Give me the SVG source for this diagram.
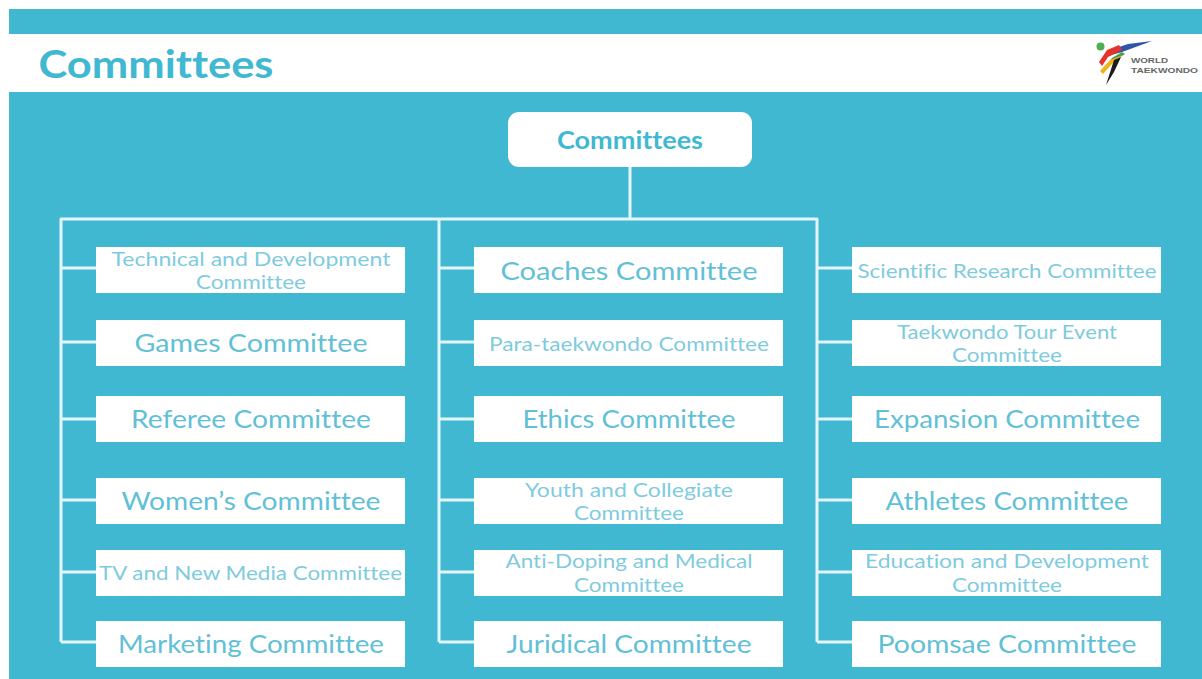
<svg xmlns="http://www.w3.org/2000/svg" width="1202" height="679" viewBox="0 0 1202 679">
<style>
.box{fill:#fff}
.t{font-family:"Lato","Liberation Sans",sans-serif;text-anchor:middle;fill:#62c0d6;font-variant-ligatures:none}
.big{font-size:25px}
.small{font-size:20px;fill:#7fcbde}
.c{fill:none;stroke:#e4f5f9;stroke-width:3;stroke-linejoin:round}
.h{font-family:"Lato","Liberation Sans",sans-serif;font-weight:700;fill:#41b8d2;text-anchor:middle;font-variant-ligatures:none}
.lg{font-family:"Liberation Sans",sans-serif;font-weight:700;font-size:8px;fill:#666}
</style>
<rect width="1202" height="679" fill="#fff"/>
<rect x="9" y="9" width="1193" height="25" fill="#41b8d2"/>
<rect x="9" y="92" width="1193" height="587" fill="#41b8d2"/>
<text class="h" x="156" y="78" font-size="39" textLength="235" lengthAdjust="spacingAndGlyphs">Committees</text>
<g id="logo">
<circle cx="1100.5" cy="46.5" r="4" fill="#4caf50"/>
<path d="M1152 41L1128 44L1110 50L1108 56L1122 52Z" fill="#2f55a8"/>
<path d="M1122 52L1112 58L1106 66L1113 62L1125 54Z" fill="#4aa04c"/>
<path d="M1119 45L1107 50L1099 62L1102 66L1108 57L1122 50Z" fill="#e5342b"/>
<path d="M1123 55L1110 60L1100 71L1103 74L1112 64Z" fill="#f2b21c"/>
<path d="M1121 57L1114 60L1106 85L1114 72Z" fill="#1c1c1c"/>
<text class="lg" x="1131" y="63" textLength="37" lengthAdjust="spacingAndGlyphs">WORLD</text>
<text class="lg" x="1131" y="73" textLength="67" lengthAdjust="spacingAndGlyphs">TAEKWONDO</text>
</g>
<g id="connectors">
<path class="c" d="M630 167V219M61 642V219H817V642M439 219V642"/>
<path class="c" d="M61 642H96M61 268H96M61 342H96M61 419H96M61 500H96M61 572H96"/>
<path class="c" d="M439 268H474M439 342H474M439 419H474M439 500H474M439 572H474M439 642H474"/>
<path class="c" d="M817 268H852M817 342H852M817 419H852M817 500H852M817 572H852M817 642H852"/>
</g>
<g id="root"><rect class="box" x="508" y="112" width="244" height="55" rx="11"/><text class="h" x="630" y="149" font-size="25" textLength="146" lengthAdjust="spacingAndGlyphs">Committees</text></g>
<g id="n1"><rect class="box" x="96" y="247" width="309" height="46"/><text class="t small" x="251" y="266" textLength="279" lengthAdjust="spacingAndGlyphs">Technical and Development</text><text class="t small" x="251" y="289" textLength="110" lengthAdjust="spacingAndGlyphs">Committee</text></g>
<g id="n2"><rect class="box" x="96" y="320" width="309" height="46"/><text class="t big" x="251" y="352" textLength="233" lengthAdjust="spacingAndGlyphs">Games Committee</text></g>
<g id="n3"><rect class="box" x="96" y="396" width="309" height="46"/><text class="t big" x="251" y="428" textLength="240" lengthAdjust="spacingAndGlyphs">Referee Committee</text></g>
<g id="n4"><rect class="box" x="96" y="478" width="309" height="46"/><text class="t big" x="251" y="510" textLength="259" lengthAdjust="spacingAndGlyphs">Women’s Committee</text></g>
<g id="n5"><rect class="box" x="96" y="550" width="309" height="46"/><text class="t small" x="250.500" y="580" textLength="303" lengthAdjust="spacingAndGlyphs">TV and New Media Committee</text></g>
<g id="n6"><rect class="box" x="96" y="621" width="309" height="46"/><text class="t big" x="251" y="653" textLength="266" lengthAdjust="spacingAndGlyphs">Marketing Committee</text></g>
<g id="n7"><rect class="box" x="474" y="247" width="309" height="46"/><text class="t big" x="629" y="280" textLength="257" lengthAdjust="spacingAndGlyphs">Coaches Committee</text></g>
<g id="n8"><rect class="box" x="474" y="320" width="309" height="46"/><text class="t small" x="629" y="351" textLength="280" lengthAdjust="spacingAndGlyphs">Para-taekwondo Committee</text></g>
<g id="n9"><rect class="box" x="474" y="396" width="309" height="46"/><text class="t big" x="629" y="428" textLength="213" lengthAdjust="spacingAndGlyphs">Ethics Committee</text></g>
<g id="n10"><rect class="box" x="474" y="478" width="309" height="46"/><text class="t small" x="629" y="497" textLength="208" lengthAdjust="spacingAndGlyphs">Youth and Collegiate</text><text class="t small" x="629" y="520" textLength="110" lengthAdjust="spacingAndGlyphs">Committee</text></g>
<g id="n11"><rect class="box" x="474" y="550" width="309" height="46"/><text class="t small" x="629" y="568" textLength="247" lengthAdjust="spacingAndGlyphs">Anti-Doping and Medical</text><text class="t small" x="629" y="592" textLength="110" lengthAdjust="spacingAndGlyphs">Committee</text></g>
<g id="n12"><rect class="box" x="474" y="621" width="309" height="46"/><text class="t big" x="629" y="653" textLength="245" lengthAdjust="spacingAndGlyphs">Juridical Committee</text></g>
<g id="n13"><rect class="box" x="852" y="247" width="309" height="46"/><text class="t small" x="1007" y="278" textLength="299" lengthAdjust="spacingAndGlyphs">Scientific Research Committee</text></g>
<g id="n14"><rect class="box" x="852" y="320" width="309" height="46"/><text class="t small" x="1007" y="339" textLength="220" lengthAdjust="spacingAndGlyphs">Taekwondo Tour Event</text><text class="t small" x="1007" y="362" textLength="110" lengthAdjust="spacingAndGlyphs">Committee</text></g>
<g id="n15"><rect class="box" x="852" y="396" width="309" height="46"/><text class="t big" x="1007" y="428" textLength="266" lengthAdjust="spacingAndGlyphs">Expansion Committee</text></g>
<g id="n16"><rect class="box" x="852" y="478" width="309" height="46"/><text class="t big" x="1007" y="510" textLength="243" lengthAdjust="spacingAndGlyphs">Athletes Committee</text></g>
<g id="n17"><rect class="box" x="852" y="550" width="309" height="46"/><text class="t small" x="1007" y="568" textLength="284" lengthAdjust="spacingAndGlyphs">Education and Development</text><text class="t small" x="1007" y="592" textLength="110" lengthAdjust="spacingAndGlyphs">Committee</text></g>
<g id="n18"><rect class="box" x="852" y="621" width="309" height="46"/><text class="t big" x="1007" y="653" textLength="259" lengthAdjust="spacingAndGlyphs">Poomsae Committee</text></g>
</svg>
